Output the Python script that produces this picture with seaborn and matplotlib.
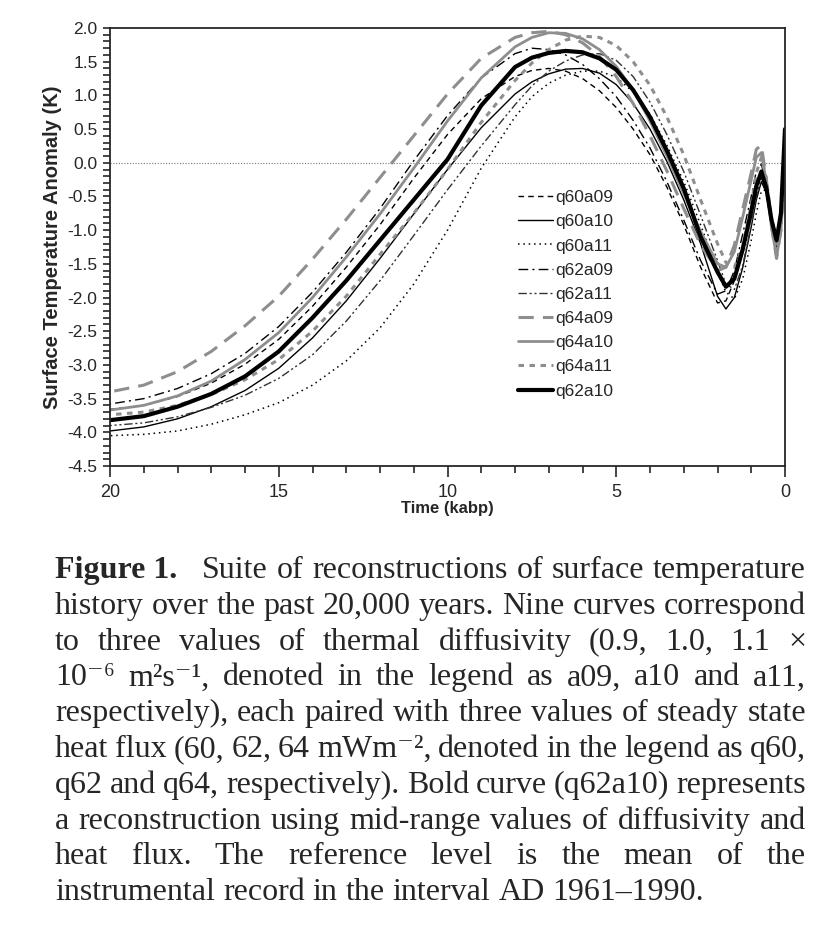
import matplotlib
matplotlib.use("Agg")
import matplotlib.pyplot as plt
import matplotlib.ticker as mticker
import seaborn as sns
import pandas as pd

# time axis (kabp) shared by all reconstructions
t_kabp = [20, 19, 18, 17, 16, 15, 14, 13, 12, 11, 10, 9, 8, 7.5, 7, 6.5, 6, 5.5,
          5, 4.5, 4, 3.5, 3, 2.5, 2, 1.75, 1.5, 1.25, 1.0, 0.85, 0.7, 0.55, 0.4,
          0.25, 0.12, 0]

# surface temperature anomaly (K)
q60a09 = [-3.66, -3.60, -3.47, -3.27, -2.99, -2.62, -2.13, -1.55, -0.92, -0.23,
          0.42, 0.95, 1.28, 1.37, 1.40, 1.36, 1.25, 1.07, 0.82, 0.50, 0.12,
          -0.36, -0.92, -1.55, -2.08, -2.05, -1.75, -1.22, -0.66, -0.28, -0.17,
          -0.48, -0.92, -1.20, -0.80, 0.30]
q60a10 = [-3.98, -3.92, -3.80, -3.62, -3.38, -3.05, -2.60, -2.05, -1.42, -0.76,
          -0.10, 0.52, 1.02, 1.20, 1.32, 1.39, 1.40, 1.33, 1.16, 0.88, 0.50,
          0.02, -0.55, -1.20, -1.98, -2.17, -2.00, -1.55, -0.95, -0.55, -0.28,
          -0.45, -0.85, -1.12, -0.75, 0.35]
q60a11 = [-4.05, -4.03, -3.98, -3.88, -3.74, -3.56, -3.30, -2.94, -2.45, -1.80,
          -1.00, -0.08, 0.68, 0.98, 1.18, 1.30, 1.36, 1.36, 1.27, 1.05, 0.72,
          0.26, -0.28, -0.92, -1.62, -1.92, -2.02, -1.72, -1.15, -0.75, -0.42,
          -0.40, -0.78, -1.10, -0.75, 0.30]
q62a09 = [-3.58, -3.50, -3.35, -3.13, -2.83, -2.43, -1.92, -1.33, -0.68, 0.03,
          0.70, 1.26, 1.62, 1.70, 1.68, 1.60, 1.46, 1.25, 0.98, 0.63, 0.22,
          -0.28, -0.85, -1.45, -1.95, -1.90, -1.60, -1.05, -0.50, -0.12, -0.02,
          -0.35, -0.85, -1.25, -0.85, 0.30]
q62a11 = [-3.90, -3.86, -3.77, -3.63, -3.45, -3.20, -2.85, -2.35, -1.75, -1.08,
          -0.40, 0.25, 0.86, 1.14, 1.36, 1.51, 1.60, 1.62, 1.52, 1.28, 0.90,
          0.42, -0.13, -0.78, -1.45, -1.80, -1.88, -1.52, -0.92, -0.50, -0.22,
          -0.42, -0.88, -1.20, -0.80, 0.35]
q64a09 = [-3.40, -3.30, -3.10, -2.80, -2.42, -1.98, -1.43, -0.84, -0.22, 0.40,
          1.02, 1.55, 1.86, 1.93, 1.95, 1.90, 1.78, 1.58, 1.28, 0.88, 0.40,
          -0.12, -0.68, -1.22, -1.60, -1.55, -1.22, -0.68, -0.15, 0.20, 0.26,
          -0.25, -0.95, -1.42, -1.00, 0.10]
q64a10 = [-3.67, -3.60, -3.46, -3.24, -2.92, -2.52, -2.00, -1.40, -0.76, -0.08,
          0.62, 1.26, 1.72, 1.86, 1.93, 1.92, 1.84, 1.68, 1.43, 1.08, 0.62,
          0.10, -0.46, -1.02, -1.50, -1.55, -1.32, -0.80, -0.25, 0.08, 0.15,
          -0.30, -0.95, -1.40, -1.00, 0.20]
q64a11 = [-3.74, -3.70, -3.60, -3.44, -3.22, -2.92, -2.50, -1.98, -1.36, -0.75,
          -0.10, 0.60, 1.22, 1.48, 1.68, 1.82, 1.88, 1.86, 1.74, 1.50, 1.15,
          0.68, 0.12, -0.55, -1.20, -1.48, -1.55, -1.25, -0.62, -0.15, 0.08,
          -0.25, -0.85, -1.35, -0.95, 0.15]
q62a10 = [-3.82, -3.76, -3.62, -3.43, -3.17, -2.80, -2.30, -1.75, -1.15, -0.55,
          0.05, 0.85, 1.42, 1.56, 1.63, 1.66, 1.64, 1.55, 1.38, 1.08, 0.68,
          0.18, -0.38, -1.10, -1.62, -1.84, -1.72, -1.28, -0.72, -0.35, -0.13,
          -0.38, -0.85, -1.15, -0.75, 0.50]

series_names = ["q60a09", "q60a10", "q60a11", "q62a09", "q62a11",
                "q64a09", "q64a10", "q64a11", "q62a10"]
series_values = [q60a09, q60a10, q60a11, q62a09, q62a11,
                 q64a09, q64a10, q64a11, q62a10]

caption_lines = [
    "Figure 1.  Suite of reconstructions of surface temperature",
    "history over the past 20,000 years. Nine curves correspond",
    "to three values of thermal diffusivity (0.9, 1.0, 1.1 \u00d7",
    "10\u207b\u2076 m\u00b2s\u207b\u00b9, denoted in the legend as a09, a10 and a11,",
    "respectively), each paired with three values of steady state",
    "heat flux (60, 62, 64 mWm\u207b\u00b2, denoted in the legend as q60,",
    "q62 and q64, respectively). Bold curve (q62a10) represents",
    "a reconstruction using mid-range values of diffusivity and",
    "heat flux. The reference level is the mean of the",
    "instrumental record in the interval AD 1961\u20131990.",
]

sns.set_style("ticks")
plt.rcParams["font.family"] = ["Liberation Sans", "DejaVu Sans"]
plt.rcParams["axes.unicode_minus"] = False

gray = "#8e8e8e"
styles = {
    "q60a09": dict(color="black", linewidth=1.0, linestyle=(0, (4, 3))),
    "q60a10": dict(color="black", linewidth=1.0, linestyle="-"),
    "q60a11": dict(color="black", linewidth=1.1, linestyle=(0, (1, 2.5))),
    "q62a09": dict(color="black", linewidth=1.0, linestyle=(0, (7, 3, 1.5, 3))),
    "q62a11": dict(color="#333333", linewidth=1.0, linestyle=(0, (6, 2, 1.5, 2, 1.5, 2))),
    "q64a09": dict(color=gray, linewidth=2.2, linestyle=(0, (5, 3))),
    "q64a10": dict(color=gray, linewidth=2.0, linestyle="-"),
    "q64a11": dict(color=gray, linewidth=2.2, linestyle=(0, (1.8, 1.8))),
    "q62a10": dict(color="black", linewidth=3.0, linestyle="-"),
}

W, H = 818, 930
fig = plt.figure(figsize=(W / 100, H / 100), dpi=100)
ax = fig.add_axes([110 / W, 1 - 466 / H, 675 / W, 438 / H])

for name, vals in zip(series_names, series_values):
    df = pd.DataFrame({"time": t_kabp, "anomaly": vals})
    sns.lineplot(data=df, x="time", y="anomaly", ax=ax, label=name,
                 errorbar=None, **styles[name])

ax.axhline(0, color="#777777", linewidth=0.8, linestyle=(0, (1, 1.5)), zorder=0)

ax.set_xlim(20, 0)
ax.set_ylim(-4.5, 2.0)
ax.xaxis.set_major_locator(mticker.MultipleLocator(5))
ax.xaxis.set_minor_locator(mticker.MultipleLocator(1))
ax.yaxis.set_major_locator(mticker.MultipleLocator(0.5))
ax.yaxis.set_minor_locator(mticker.MultipleLocator(0.1))
ax.yaxis.set_major_formatter(mticker.FormatStrFormatter("%.1f"))
ax.tick_params(axis="x", which="major", length=8, width=1.2, pad=5, labelsize=13)
ax.tick_params(axis="x", which="minor", length=5, width=1.2)
ax.tick_params(axis="y", which="both", length=5, width=1.2, pad=4, labelsize=12.5)
for sp in ax.spines.values():
    sp.set_linewidth(1.3)

ax.set_xlabel("Time (kabp)", fontsize=12, fontweight="bold", labelpad=0)
ax.set_ylabel("Surface Temperature Anomaly (K)", fontsize=14.5, fontweight="bold",
              labelpad=4)

ax.legend(loc="upper left", bbox_to_anchor=(518 / W, 1 - 190 / H),
          bbox_transform=fig.transFigure, frameon=False, fontsize=12.5,
          labelspacing=0.52, handlelength=2.0, handletextpad=0.15,
          borderpad=0, borderaxespad=0)

# justified caption below the chart
renderer = fig.canvas.get_renderer()
cap_font = ["Liberation Serif", "DejaVu Serif"]
cap_size = 23
x_left, x_right = 55, 806
baseline0, pitch = 578, 35.8
for i, line in enumerate(caption_lines):
    y = 1 - (baseline0 + i * pitch) / H
    if i == 0:
        words = [("Figure 1.\u2002", "bold")] + [(w, "normal") for w in line.split()[2:]]
    else:
        words = [(w, "normal") for w in line.split()]
    texts = []
    for w, weight in words:
        tx = fig.text(0, y, w, fontsize=cap_size, family=cap_font,
                      fontweight=weight, va="baseline", ha="left")
        texts.append(tx)
    widths = [tx.get_window_extent(renderer).width for tx in texts]
    if i < len(caption_lines) - 1:
        gap = (x_right - x_left - sum(widths)) / (len(texts) - 1)
    else:
        sp = fig.text(0, 0, "a a", fontsize=cap_size, family=cap_font)
        sp2 = fig.text(0, 0, "aa", fontsize=cap_size, family=cap_font)
        gap = sp.get_window_extent(renderer).width - sp2.get_window_extent(renderer).width
        sp.remove()
        sp2.remove()
    x = x_left
    for tx, wd in zip(texts, widths):
        tx.set_x(x / W)
        x += wd + gap

fig.savefig("out.png", dpi=100)
